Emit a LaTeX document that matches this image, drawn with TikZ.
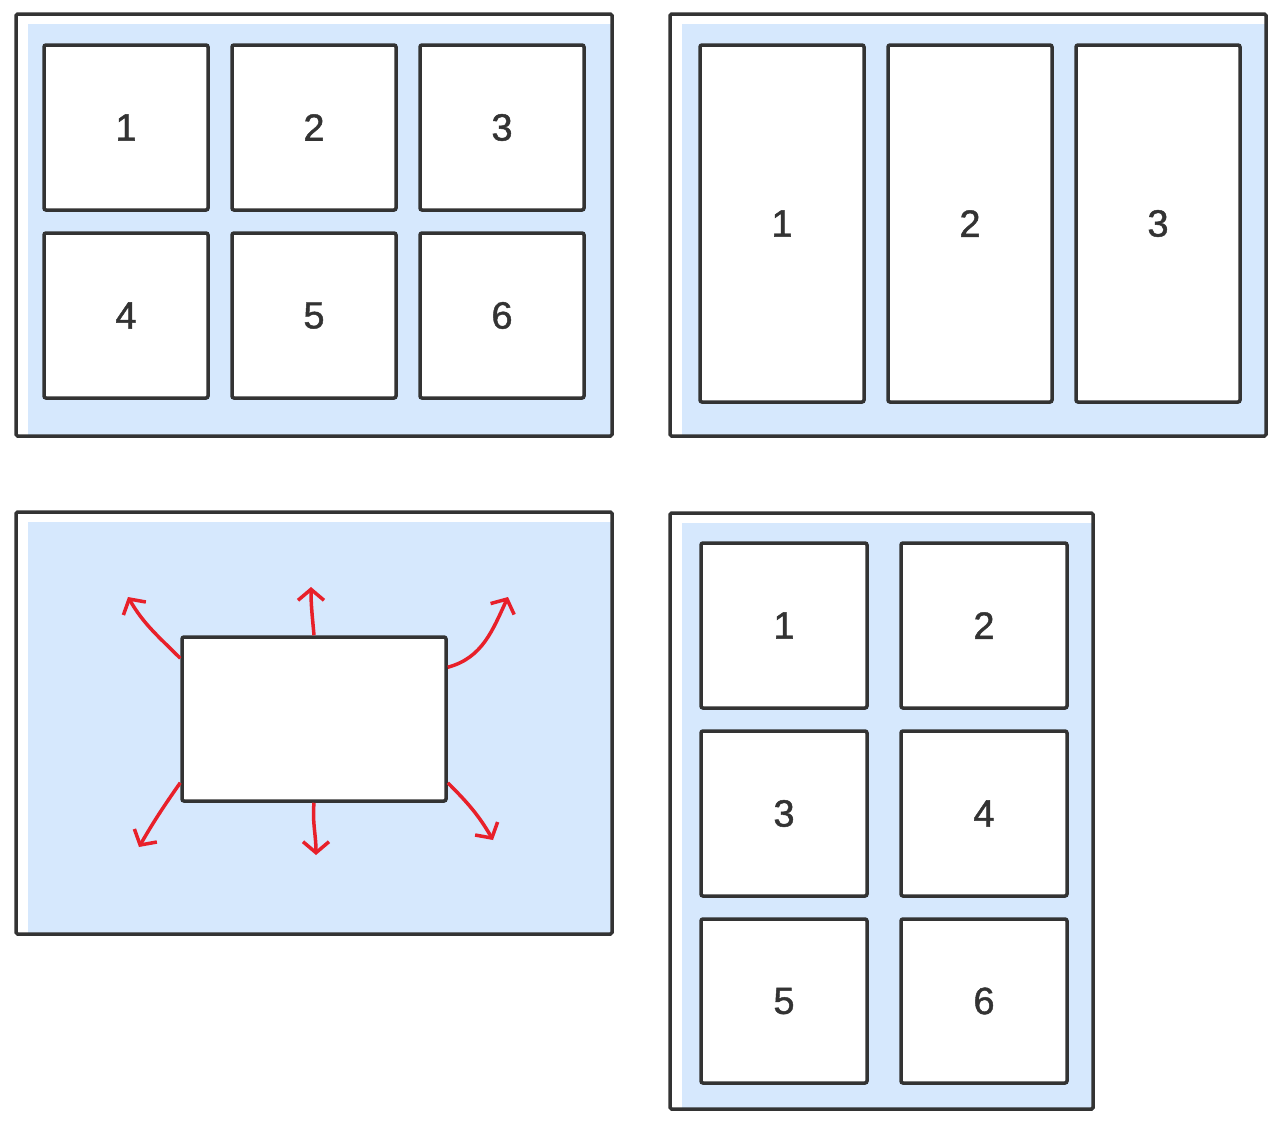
\documentclass[tikz,border=0pt]{standalone}
\usepackage{fontspec}
\setmainfont{Liberation Sans}
\newfontfamily\digitfont[FakeBold=1.2]{Liberation Sans}
\usetikzlibrary{arrows.meta}
\definecolor{edge}{HTML}{333333}
\definecolor{panelfill}{HTML}{D6E8FD}
\definecolor{arrowred}{HTML}{E8202A}
\begin{document}
\begin{tikzpicture}[x=1pt,y=-1pt,
  frame/.style={draw=edge,line width=3.5pt,rounded corners=1.5pt},
  cell/.style={draw=edge,line width=3.5pt,fill=white,rounded corners=2pt,inner sep=0pt,text=edge,font=\digitfont\fontsize{38}{38}\selectfont},
  redarrow/.style={draw=arrowred,line width=3.5pt,-{Straight Barb[length=11pt,width=26pt,line width=3.5pt]}}]
\useasboundingbox (0,0) rectangle (1280,1130);
% panel 1
\fill[panelfill] (28,24) rectangle (612,436);
\draw[frame] (16,14) rectangle (612,436);
\node[cell,minimum width=164pt,minimum height=165pt] (a1) at (126,127.5) {1};
\node[cell,minimum width=164pt,minimum height=165pt] (a2) at (314,127.5) {2};
\node[cell,minimum width=164pt,minimum height=165pt] (a3) at (502,127.5) {3};
\node[cell,minimum width=164pt,minimum height=165pt] (a4) at (126,315.5) {4};
\node[cell,minimum width=164pt,minimum height=165pt] (a5) at (314,315.5) {5};
\node[cell,minimum width=164pt,minimum height=165pt] (a6) at (502,315.5) {6};
% panel 2
\fill[panelfill] (682,24) rectangle (1266,436);
\draw[frame] (670,14) rectangle (1266,436);
\node[cell,minimum width=164pt,minimum height=357pt] (b1) at (782,223.5) {1};
\node[cell,minimum width=164pt,minimum height=357pt] (b2) at (970,223.5) {2};
\node[cell,minimum width=164pt,minimum height=357pt] (b3) at (1158,223.5) {3};
% panel 3
\fill[panelfill] (28,522) rectangle (612,934);
\draw[frame] (16,512) rectangle (612,934);
\node[cell,minimum width=264pt,minimum height=164pt] (c) at (314,719) {};
\coordinate (t1) at (128,597);
\coordinate (t2) at (311,587);
\coordinate (t3) at (508,597);
\coordinate (t4) at (139,847);
\coordinate (t5) at (316,855);
\coordinate (t6) at (493,840);
\draw[redarrow] ([yshift=-23pt]c.north west) to[out=135,in=-60] (t1);
\draw[redarrow] (c.north) to[out=95,in=-90] (t2);
\draw[redarrow] ([yshift=-32pt]c.north east) to[out=15,in=-115] (t3);
\draw[redarrow] ([yshift=20pt]c.south west) to[out=-125,in=60] (t4);
\draw[redarrow] (c.south) to[out=-95,in=90] (t5);
\draw[redarrow] ([yshift=20pt]c.south east) to[out=-45,in=120] (t6);
% panel 4
\fill[panelfill] (682,523) rectangle (1093,1109);
\draw[frame] (670,513) rectangle (1093,1109);
\node[cell,minimum width=166pt,minimum height=165pt] (d1) at (784,625.5) {1};
\node[cell,minimum width=166pt,minimum height=165pt] (d2) at (984,625.5) {2};
\node[cell,minimum width=166pt,minimum height=165pt] (d3) at (784,813.5) {3};
\node[cell,minimum width=166pt,minimum height=165pt] (d4) at (984,813.5) {4};
\node[cell,minimum width=166pt,minimum height=164pt] (d5) at (784,1001) {5};
\node[cell,minimum width=166pt,minimum height=164pt] (d6) at (984,1001) {6};
\end{tikzpicture}
\end{document}
